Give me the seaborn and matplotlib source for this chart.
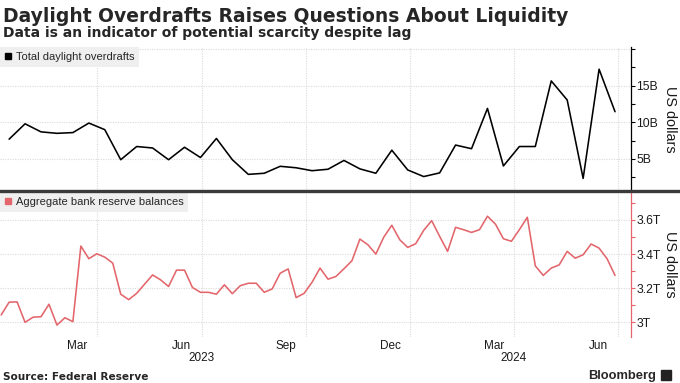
import matplotlib
matplotlib.use("Agg")
import matplotlib.pyplot as plt
import matplotlib.dates as mdates
import matplotlib.transforms as mtransforms
from matplotlib.lines import Line2D
from matplotlib.patches import Rectangle
import pandas as pd
import seaborn as sns

# Weekly dates (Wednesdays); overdrafts are every other week
weeks = pd.date_range("2022-12-07", periods=78, freq="7D")

# Aggregate bank reserve balances, trillions USD
reserves_tn = [
    3.043, 3.118, 3.12, 3.0, 3.03, 3.033, 3.106, 2.984, 3.027, 3.004,
    3.447, 3.373, 3.402, 3.382, 3.347, 3.165, 3.133, 3.17, 3.224, 3.278,
    3.249, 3.21, 3.306, 3.306, 3.204, 3.176, 3.176, 3.165, 3.22, 3.168,
    3.215, 3.229, 3.229, 3.176, 3.196, 3.288, 3.313, 3.145, 3.17, 3.235,
    3.318, 3.253, 3.269, 3.314, 3.361, 3.488, 3.455, 3.4, 3.5, 3.569,
    3.484, 3.439, 3.461, 3.539, 3.596, 3.504, 3.416, 3.557, 3.543, 3.527,
    3.543, 3.622, 3.576, 3.49, 3.475, 3.543, 3.616, 3.331, 3.275, 3.318,
    3.337, 3.416, 3.376, 3.396, 3.459, 3.435, 3.373, 3.275,
]

# Total daylight overdrafts, billions USD
overdrafts_bn = [
    7.7, 9.8, 8.7, 8.5, 8.6, 9.9, 9.0, 4.9, 6.7, 6.5,
    4.9, 6.6, 5.2, 7.8, 4.9, 2.9, 3.05, 4.0, 3.8, 3.4,
    3.6, 4.8, 3.65, 3.05, 6.2, 3.5, 2.6, 3.1, 6.9, 6.4,
    11.9, 4.05, 6.7, 6.7, 15.65, 13.05, 2.35, 17.25, 11.45,
]

month_ticks = pd.to_datetime(["2023-03-01", "2023-06-01", "2023-09-01",
                              "2023-12-01", "2024-03-01", "2024-06-01"])
month_labels = ["Mar", "Jun", "Sep", "Dec", "Mar", "Jun"]
years = {"2023": "2023-06-01", "2024": "2024-03-01"}

df_res = pd.DataFrame({"date": weeks, "value": reserves_tn})
df_od = pd.DataFrame({"date": weeks[1::2], "value": overdrafts_bn})

RED = "#e2666c"
GRID = "#dadada"

sns.set_theme(style="white")
plt.rcParams["font.family"] = ["Liberation Sans", "DejaVu Sans"]

fig = plt.figure(figsize=(6.8, 3.83), dpi=100)
ax_top = fig.add_axes([0, 0.5013, 0.9279, 0.376])
ax_bot = fig.add_axes([0, 0.1201, 0.9279, 0.3786], sharex=ax_top)

sns.lineplot(data=df_od, x="date", y="value", color="black", lw=1.15, ax=ax_top)
sns.lineplot(data=df_res, x="date", y="value", color=RED, lw=1.15, ax=ax_bot)

for ax, col in [(ax_top, "black"), (ax_bot, RED)]:
    for side in ["top", "left", "bottom"]:
        ax.spines[side].set_visible(False)
    ax.spines["right"].set_color(col)
    ax.spines["right"].set_linewidth(0.9)
    ax.yaxis.tick_right()
    ax.set_xlabel("")
    ax.set_axisbelow(True)
    ax.grid(True, which="major", color=GRID, linestyle=(0, (1, 1.2)), lw=0.8)
    ax.tick_params(axis="y", which="both", direction="out", length=2.6,
                   width=0.8, color=col, pad=1.2, labelsize=8.8,
                   labelcolor="#1a1a1a")
    ax.set_ylabel("US dollars", rotation=270, fontsize=10.4, color="#1a1a1a",
                  va="center", ha="center")
    ax.yaxis.set_label_coords(1.062, 0.5)

ax_top.set_xlim(pd.Timestamp("2022-12-06"), pd.Timestamp("2024-06-12"))

# top panel axis
ax_top.set_ylim(0.63, 20.28)
ax_top.set_yticks([5, 10, 15, 20])
ax_top.set_yticklabels(["5B", "10B", "15B", ""])
ax_top.set_yticks([2.5, 7.5, 12.5, 17.5], minor=True)

# bottom panel axis
ax_bot.set_ylim(2.914, 3.764)
ax_bot.set_yticks([3.0, 3.2, 3.4, 3.6])
ax_bot.set_yticklabels(["3T", "3.2T", "3.4T", "3.6T"])
ax_bot.set_yticks([3.1, 3.3, 3.5, 3.7], minor=True)

# x ticks
ax_bot.set_xticks(month_ticks)
ax_bot.set_xticklabels(month_labels)
ax_top.tick_params(axis="x", labelbottom=False, length=0)
ax_bot.tick_params(axis="x", length=0, pad=2.5, labelsize=8.5, labelcolor="#1a1a1a")
shift = mtransforms.ScaledTranslation(-0.2, 0, fig.dpi_scale_trans)
for lab in ax_bot.get_xticklabels():
    lab.set_transform(lab.get_transform() + shift)
for yr, d in years.items():
    ax_bot.text(mdates.date2num(pd.Timestamp(d)), -0.145, yr,
                transform=ax_bot.get_xaxis_transform(), ha="center",
                va="center", fontsize=8.5, color="#1a1a1a")

# legends
for ax, col, name in [(ax_top, "black", "Total daylight overdrafts"),
                      (ax_bot, RED, "Aggregate bank reserve balances")]:
    h = Line2D([0], [0], marker="s", color=col, linestyle="", markersize=5)
    leg = ax.legend([h], [name], loc="upper left", bbox_to_anchor=(0, 1),
                    borderaxespad=0, handlelength=0.6, handletextpad=0.35,
                    borderpad=0.45, frameon=True, fancybox=False,
                    facecolor="#efefef", edgecolor="none", framealpha=1,
                    fontsize=8)
    leg.get_frame().set_linewidth(0)

# separator between panels
fig.add_artist(Line2D([0, 1], [0.5013, 0.5013], transform=fig.transFigure,
                      color="#3a3a3a", lw=2.4))

# titles and footer
fig.text(3 / 680, 1 - 22 / 383, "Daylight Overdrafts Raises Questions About Liquidity",
         fontsize=13.5, fontweight="bold", family="DejaVu Sans", va="baseline")
fig.text(3 / 680, 1 - 37.5 / 383, "Data is an indicator of potential scarcity despite lag",
         fontsize=10, fontweight="bold", family="DejaVu Sans", va="baseline")
fig.text(3 / 680, 1 - 380 / 383, "Source: Federal Reserve", fontsize=7.6,
         fontweight="bold", family="DejaVu Sans", va="baseline")
fig.text(656 / 680, 1 - 379 / 383, "Bloomberg", fontsize=9.3, fontweight="bold",
         ha="right", va="baseline")
fig.add_artist(Rectangle((661 / 680, 1 - 380 / 383), 10 / 680, 10 / 383,
                         transform=fig.transFigure, color="#222222"))

fig.savefig("out.png", dpi=100)
